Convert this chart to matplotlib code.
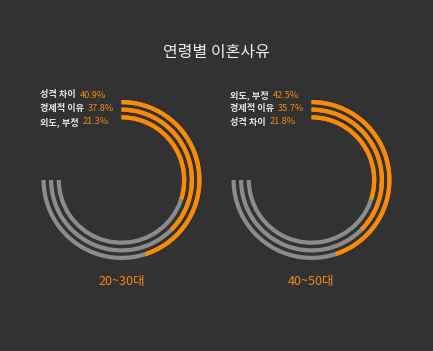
import matplotlib.pyplot as plt
from matplotlib.patches import Wedge

plt.rcParams['font.family'] = ['Noto Sans CJK KR', 'DejaVu Sans']

# Data
groups = ['20~30대', '40~50대']
reasons = [['성격 차이', '경제적 이유', '외도, 부정'],
           ['외도, 부정', '경제적 이유', '성격 차이']]
shares = [['40.9%', '37.8%', '21.3%'],
          ['42.5%', '35.7%', '21.8%']]
# filled part of each ring (outer -> inner), percent of the full track
ring_fill = [60, 50, 40]
ring_max = 100

bg = '#323232'
orange = '#ff8a00'
track = '#8c8c8c'

fig = plt.figure(figsize=(4.33, 3.51), dpi=100, facecolor=bg)
ax = fig.add_axes([0, 0, 1, 1])
ax.set_xlim(0, 433)
ax.set_ylim(0, 351)
ax.set_aspect('equal')
ax.axis('off')
ax.set_facecolor(bg)

radii = [80, 72.5, 64.8]
ring_w = 4.2
span = 270  # track runs clockwise from 12 o'clock to 9 o'clock

for g, cx in enumerate([121.5, 311.5]):
    cy = 171
    for i, r in enumerate(radii):
        ax.add_patch(Wedge((cx, cy), r, -180, 90, width=ring_w,
                           facecolor=track, edgecolor='none'))
        ang = ring_fill[i] / ring_max * span
        ax.add_patch(Wedge((cx, cy), r, 90 - ang, 90, width=ring_w,
                           facecolor=orange, edgecolor='none'))

    # labels
    x0 = cx - 81.5
    for i, (name, val) in enumerate(zip(reasons[g], shares[g])):
        y = 256 - i * 13.5
        t = ax.text(x0, y, name, color='#e8e8e8', fontsize=6.6,
                    fontweight='bold', ha='left', va='center')
        ax.annotate(val, xy=(1, 0.5), xycoords=t, xytext=(3, 0),
                    textcoords='offset points', color='#f08a10',
                    fontsize=6.6, ha='left', va='center')

    ax.text(cx, 69, groups[g], color='#f08a10', fontsize=9,
            ha='center', va='center')

ax.text(216, 299, '연령별 이혼사유', color='#eeeeee', fontsize=11.5,
        ha='center', va='center')

fig.savefig('out.png', dpi=100, facecolor=bg)
